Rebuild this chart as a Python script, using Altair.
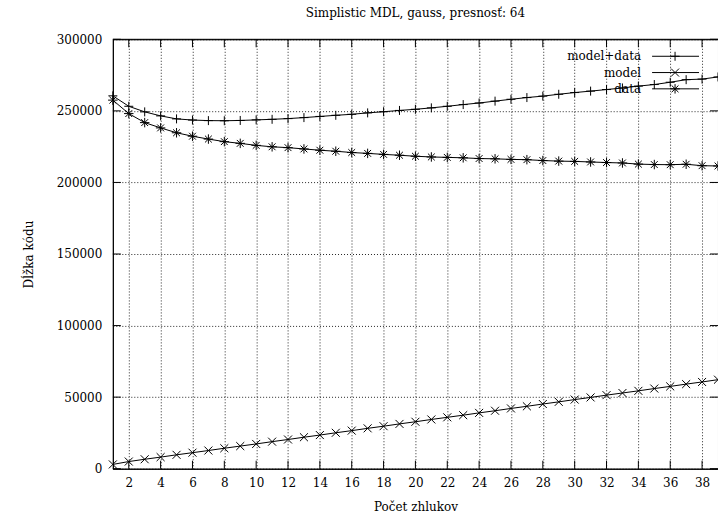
import altair as alt
import pandas as pd

clusters = list(range(1, 40))
model_plus_data = [260500, 253200, 249300, 246500, 244400, 243600, 243200, 243100, 243300, 243700,
                   244100, 244600, 245300, 246100, 246900, 247600, 248600, 249400, 250300, 251100,
                   252100, 253200, 254400, 255500, 256800, 258100, 259300, 260300, 261600, 262800,
                   263800, 264900, 266000, 267300, 268400, 270000, 271800, 272200, 273700]
model = [3000, 5000, 6600, 8100, 9700, 11200, 12700, 14300, 15800, 17300,
         18900, 20400, 22000, 23500, 25100, 26600, 28200, 29700, 31300, 32800,
         34400, 35900, 37400, 39000, 40500, 42100, 43600, 45200, 46700, 48300,
         49800, 51400, 52900, 54400, 56000, 57500, 59100, 60600, 62200]
data_len = [257500, 248100, 241800, 238100, 234700, 232300, 230300, 228500, 227300, 225900,
            224900, 224300, 223400, 222500, 221800, 220900, 220300, 219600, 219000, 218300,
            217800, 217500, 217200, 216700, 216500, 216100, 215900, 215300, 214900, 214700,
            214300, 213900, 213600, 212800, 212500, 212400, 212700, 211700, 211500]
series_names = ["model+data", "model", "data"]
x_ticks = list(range(2, 39, 2))
y_ticks = [0, 50000, 100000, 150000, 200000, 250000, 300000]

title_text = "Simplistic MDL, gauss, presnosť: 64"
x_title = "Počet zhlukov"
y_title = "Dĺžka kódu"

W, H = 606, 430
FONT = "DejaVu Serif"
FS = 12
TICK = 8

shapes = {
    "model+data": "M -1 0 L 1 0 M 0 -1 L 0 1",
    "model": "M -1 -1 L 1 1 M -1 1 L 1 -1",
    "data": "M -1 0 L 1 0 M 0 -1 L 0 1 M -0.72 -0.72 L 0.72 0.72 M -0.72 0.72 L 0.72 -0.72",
}
sizes = {"model+data": 81, "model": 64, "data": 90}

series_vals = {"model+data": model_plus_data, "model": model, "data": data_len}
rows = []
for name in series_names:
    for k, v in zip(clusters, series_vals[name]):
        rows.append({"k": k, "v": v, "series": name})
df = pd.DataFrame(rows)

xscale = alt.Scale(domain=[1, 39], nice=False, zero=False)
yscale = alt.Scale(domain=[0, 300000], nice=False)

common_axis = dict(
    format="d", grid=True, ticks=False, domain=True, domainColor="black", domainWidth=1,
    labelFont=FONT, labelFontSize=FS, labelColor="black", labelOverlap=False,
    titleFont=FONT, titleFontSize=FS, titleFontWeight="normal", titleColor="black",
    gridColor="black", gridDash=[1, 2], gridWidth=1, gridOpacity=0.85,
)
xaxis = alt.Axis(values=x_ticks, tickCount=40, title=x_title, labelPadding=9, titleY=42,
                 titleBaseline="alphabetic", **common_axis)
yaxis = alt.Axis(values=y_ticks, tickCount=20, title=y_title, labelPadding=11, titleX=-80,
                 titleY=H / 2, titleAngle=270, titleBaseline="alphabetic", titleAlign="center",
                 **common_axis)

X = lambda f: alt.X(f, scale=xscale, title=x_title)
Y = lambda f: alt.Y(f, scale=yscale, title=y_title)

lines = alt.Chart(df).mark_line(color="black", strokeWidth=1).encode(
    x=alt.X("k:Q", scale=xscale, axis=xaxis),
    y=alt.Y("v:Q", scale=yscale, axis=yaxis),
    detail="series:N",
)

layers = [lines]
for name in series_names:
    pts = alt.Chart(df[df.series == name]).mark_point(
        shape=shapes[name], filled=False, color="black", strokeWidth=1, size=sizes[name], opacity=1
    ).encode(x=X("k:Q"), y=Y("v:Q"))
    layers.append(pts)

xt = pd.DataFrame({"t": x_ticks})
yt = pd.DataFrame({"t": y_ticks})
layers.append(alt.Chart(xt).mark_rule(color="black", strokeWidth=1).encode(
    x=X("t:Q"), y=alt.value(H), y2=alt.value(H - TICK)))
layers.append(alt.Chart(xt).mark_rule(color="black", strokeWidth=1).encode(
    x=X("t:Q"), y=alt.value(0), y2=alt.value(TICK)))
layers.append(alt.Chart(yt).mark_rule(color="black", strokeWidth=1).encode(
    y=Y("t:Q"), x=alt.value(0), x2=alt.value(TICK)))
layers.append(alt.Chart(yt).mark_rule(color="black", strokeWidth=1).encode(
    y=Y("t:Q"), x=alt.value(W), x2=alt.value(W - TICK)))

# key (legend) in the upper right, gnuplot style
for i, name in enumerate(series_names):
    ypos = 17 + i * 16.3
    one = pd.DataFrame({"label": [name]})
    layers.append(alt.Chart(one).mark_text(align="right", baseline="middle", font=FONT,
                                           fontSize=FS, color="black").encode(
        text="label:N", x=alt.value(529), y=alt.value(ypos)))
    layers.append(alt.Chart(one).mark_rule(color="black", strokeWidth=1).encode(
        x=alt.value(540), x2=alt.value(587), y=alt.value(ypos)))
    layers.append(alt.Chart(one).mark_point(shape=shapes[name], filled=False, color="black",
                                            strokeWidth=1, size=sizes[name], opacity=1).encode(
        x=alt.value(563), y=alt.value(ypos)))

# top border line of the frame
layers.append(alt.Chart(pd.DataFrame({"a": [0]})).mark_rule(color="black", strokeWidth=1).encode(
    x=alt.value(0), x2=alt.value(W), y=alt.value(0)))

chart = alt.layer(*layers).properties(
    width=W, height=H,
    title=alt.TitleParams(title_text, font=FONT, fontSize=FS, fontWeight="normal", color="black",
                          anchor="middle", frame="group", offset=13),
    padding={"left": 113, "top": 39, "right": 0, "bottom": 46},
    autosize=alt.AutoSizeParams(type="none"),
    background="white",
).configure_view(stroke="black", strokeWidth=1)

chart.save("out.html", embed_options={"renderer": "svg", "actions": False})
